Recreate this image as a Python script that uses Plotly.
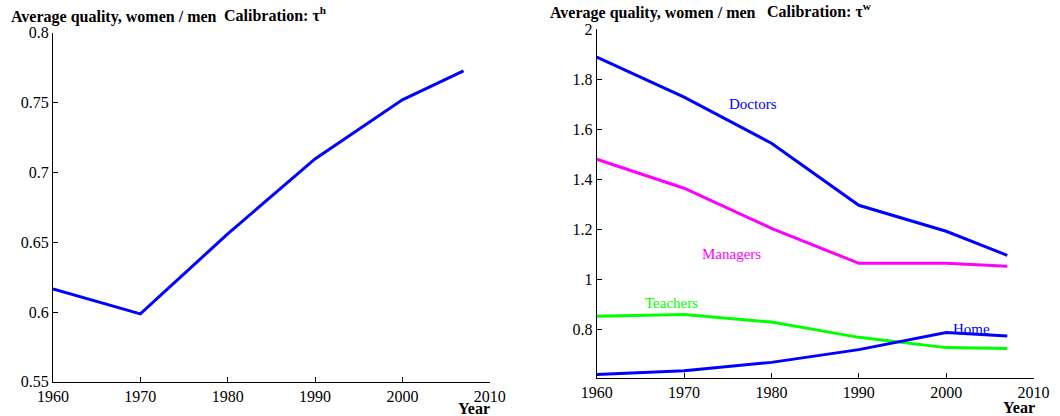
import plotly.graph_objects as go

years = [1960, 1970, 1980, 1990, 2000, 2007]
left_quality = [0.6166, 0.5987, 0.656, 0.7097, 0.752, 0.7728]

doctors = [1.888, 1.728, 1.544, 1.296, 1.192, 1.096]
managers = [1.48, 1.364, 1.204, 1.064, 1.064, 1.052]
teachers = [0.852, 0.859, 0.829, 0.768, 0.727, 0.723]
home = [0.62, 0.635, 0.668, 0.719, 0.787, 0.773]

x_ticks = [1960, 1970, 1980, 1990, 2000, 2010]
left_y_ticks = [0.55, 0.6, 0.65, 0.7, 0.75, 0.8]
left_y_labels = ["0.55", "0.6", "0.65", "0.7", "0.75", "0.8"]
right_y_ticks = [0.8, 1.0, 1.2, 1.4, 1.6, 1.8, 2.0]
right_y_labels = ["0.8", "1", "1.2", "1.4", "1.6", "1.8", "2"]

BLUE = "#0000ff"
MAGENTA = "#ff00ff"
GREEN = "#00ff00"
FONT = "Liberation Serif, Times New Roman, Times, serif"

fig = go.Figure()
fig.add_trace(go.Scatter(x=years, y=left_quality, mode="lines",
                         line=dict(color=BLUE, width=3), xaxis="x", yaxis="y"))
for series, col in [(doctors, BLUE), (managers, MAGENTA), (teachers, GREEN), (home, BLUE)]:
    fig.add_trace(go.Scatter(x=years, y=series, mode="lines",
                             line=dict(color=col, width=3), xaxis="x2", yaxis="y2"))

axis_common = dict(showline=True, linecolor="black", linewidth=1, ticks="inside",
                   ticklen=5, tickcolor="black", showgrid=False, zeroline=False,
                   tickfont=dict(family=FONT, size=16, color="black"), mirror=False,
                   automargin=False)

fig.update_layout(
    width=1060, height=416,
    margin=dict(l=0, r=0, t=0, b=0),
    paper_bgcolor="white", plot_bgcolor="white",
    showlegend=False,
    font=dict(family=FONT, color="black"),
    xaxis=dict(domain=[0.05, 0.462], range=[1960, 2010], tickvals=x_ticks,
               anchor="y", ticklabelstandoff=0, **axis_common),
    yaxis=dict(domain=[0.082, 0.921], range=[0.55, 0.8], tickvals=left_y_ticks,
               ticktext=left_y_labels, anchor="x", **axis_common),
    xaxis2=dict(domain=[0.563, 0.975], range=[1960, 2010], tickvals=x_ticks,
                anchor="y2", **axis_common),
    yaxis2=dict(domain=[0.091, 0.930], range=[0.605, 2.0], tickvals=right_y_ticks,
                ticktext=right_y_labels, anchor="x2", **axis_common),
)

title_font = dict(family=FONT, size=16, color="black")
ann = [
    dict(text="<b>Average quality, women / men</b>", x=9/1060, y=1-17/416, xanchor="left", yanchor="middle"),
    dict(text="<b>Calibration: τ<sup>h</sup></b>", x=222/1060, y=1-14/416, xanchor="left", yanchor="middle"),
    dict(text="<b>Average quality, women / men</b>", x=548/1060, y=1-13/416, xanchor="left", yanchor="middle"),
    dict(text="<b>Calibration: τ<sup>w</sup></b>", x=765/1060, y=1-10/416, xanchor="left", yanchor="middle"),
    dict(text="<b>Year</b>", x=492/1060, y=1-408/416, xanchor="right", yanchor="middle"),
    dict(text="<b>Year</b>", x=1037/1060, y=1-407/416, xanchor="right", yanchor="middle"),
]
for a in ann:
    fig.add_annotation(xref="paper", yref="paper", showarrow=False, font=title_font, **a)

labels = [("Doctors", 1977.9, 1.70, BLUE), ("Managers", 1975.4, 1.10, MAGENTA),
          ("Teachers", 1968.5, 0.904, GREEN), ("Home", 2002.9, 0.80, BLUE)]
for t, lx, ly, col in labels:
    fig.add_annotation(xref="x2", yref="y2", x=lx, y=ly, text=t, showarrow=False,
                       font=dict(family=FONT, size=15, color=col))

fig.write_html("out.html", config={"displayModeBar": False},
               post_script="document.body.style.margin='0px';document.body.style.overflow='hidden';")
